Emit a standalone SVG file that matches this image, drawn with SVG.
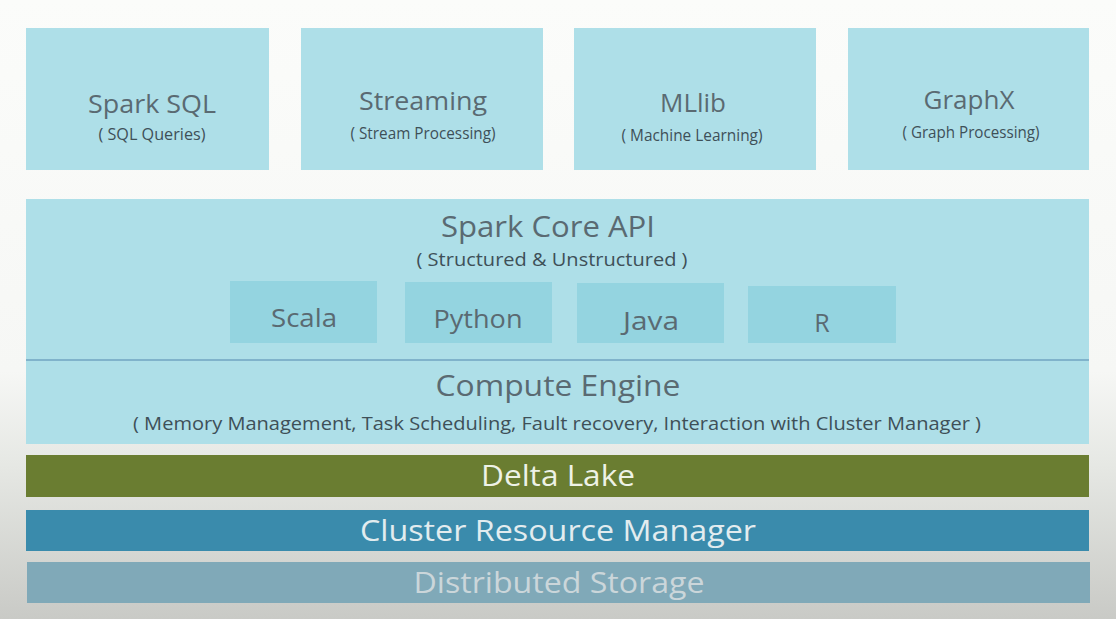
<svg xmlns="http://www.w3.org/2000/svg" width="1116" height="619" viewBox="0 0 1116 619">
<defs>
<linearGradient id="bg" x1="0" y1="0" x2="0" y2="1">
<stop offset="0" stop-color="#fbfcfa"/>
<stop offset="0.6" stop-color="#f6f7f5"/>
<stop offset="0.75" stop-color="#e6e8e4"/>
<stop offset="1" stop-color="#c9cac6"/>
</linearGradient>
<style>
.box{fill:#aedfe8}
.lang{fill:#94d4e0}
.t{font-family:"Open Sans","Noto Sans",sans-serif;fill:#5a6a72;text-anchor:middle}
.title{font-size:26px}
.sub{font-size:15.5px;fill:#3e5058}
.big{font-size:30px}
.mid{font-size:18px;fill:#3e5058}
.lng{font-size:25px}
.band{font-family:"Open Sans","Noto Sans",sans-serif;font-size:30px;text-anchor:middle}
</style>
</defs>
<rect width="1116" height="619" fill="url(#bg)"/>
<g id="spark-sql">
<rect class="box" x="26" y="28" width="243" height="142"/>
<text class="t title" x="152" y="113" textLength="128" lengthAdjust="spacingAndGlyphs">Spark SQL</text>
<text class="t sub" x="152" y="140" textLength="107" lengthAdjust="spacingAndGlyphs">( SQL Queries)</text>
</g>
<g id="streaming">
<rect class="box" x="301" y="28" width="242" height="142"/>
<text class="t title" x="423" y="110" textLength="128" lengthAdjust="spacingAndGlyphs">Streaming</text>
<text class="t sub" x="423" y="139" textLength="145" lengthAdjust="spacingAndGlyphs">( Stream Processing)</text>
</g>
<g id="mllib">
<rect class="box" x="574" y="28" width="242" height="142"/>
<text class="t title" x="693" y="112">MLlib</text>
<text class="t sub" x="692" y="141" textLength="141" lengthAdjust="spacingAndGlyphs">( Machine Learning)</text>
</g>
<g id="graphx">
<rect class="box" x="848" y="28" width="241" height="142"/>
<text class="t title" x="969" y="109">GraphX</text>
<text class="t sub" x="971" y="138" textLength="137" lengthAdjust="spacingAndGlyphs">( Graph Processing)</text>
</g>
<g id="spark-core">
<rect class="box" x="26" y="199" width="1063" height="245"/>
<line x1="26" y1="360" x2="1089" y2="360" stroke="#5288ad" stroke-width="1.2"/>
<text class="t big" x="548" y="237" textLength="214" lengthAdjust="spacingAndGlyphs">Spark Core API</text>
<text class="t mid" x="552" y="266" textLength="271" lengthAdjust="spacingAndGlyphs">( Structured &amp; Unstructured )</text>
</g>
<g id="scala">
<rect class="lang" x="230" y="281" width="147" height="62"/>
<text class="t lng" x="304" y="327" textLength="66" lengthAdjust="spacingAndGlyphs">Scala</text>
</g>
<g id="python">
<rect class="lang" x="405" y="282" width="147" height="61"/>
<text class="t lng" x="478" y="328" textLength="89" lengthAdjust="spacingAndGlyphs">Python</text>
</g>
<g id="java">
<rect class="lang" x="577" y="283" width="147" height="60"/>
<text class="t lng" x="651" y="330" textLength="56" lengthAdjust="spacingAndGlyphs">Java</text>
</g>
<g id="r">
<rect class="lang" x="748" y="286" width="148" height="57"/>
<text class="t lng" x="822" y="332">R</text>
</g>
<g id="compute-engine">
<text class="t big" x="558" y="396" textLength="245" lengthAdjust="spacingAndGlyphs">Compute Engine</text>
<text class="t mid" x="557" y="430" textLength="848" lengthAdjust="spacingAndGlyphs">( Memory Management, Task Scheduling, Fault recovery, Interaction with Cluster Manager )</text>
</g>
<g id="delta-lake">
<rect x="26" y="455" width="1063" height="42" fill="#6a7d31"/>
<text class="band" x="558" y="486" fill="#eef2e6" textLength="154" lengthAdjust="spacingAndGlyphs">Delta Lake</text>
</g>
<g id="cluster-resource-manager">
<rect x="26" y="510" width="1063" height="41" fill="#3a8bac"/>
<text class="band" x="558" y="541" fill="#e2ecef" textLength="396" lengthAdjust="spacingAndGlyphs">Cluster Resource Manager</text>
</g>
<g id="distributed-storage">
<rect x="27" y="562" width="1063" height="41" fill="#80a9b8"/>
<text class="band" x="559" y="593" fill="#cbd6da" textLength="291" lengthAdjust="spacingAndGlyphs">Distributed Storage</text>
</g>
<g id="connectors"></g>
</svg>
